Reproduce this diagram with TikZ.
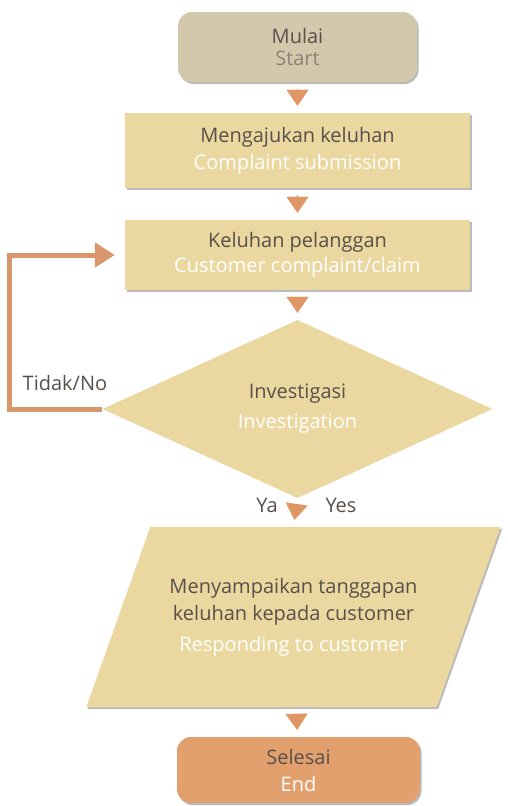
\documentclass[tikz,border=0pt]{standalone}
\usepackage{fontspec}
\setmainfont{Open Sans}
\usetikzlibrary{shapes.geometric, arrows.meta, shadows, positioning, backgrounds}
\definecolor{startfill}{RGB}{212,200,172}
\definecolor{boxfill}{RGB}{234,216,160}
\definecolor{endfill}{RGB}{226,160,110}
\definecolor{arrowc}{RGB}{224,150,100}
\definecolor{backc}{RGB}{217,151,110}
\definecolor{textdark}{RGB}{90,80,74}
\definecolor{textgrey}{RGB}{140,132,122}
\tikzset{
  every node/.style={font=\fontsize{20}{25}\selectfont, text=textdark, align=center},
  boxshadow/.style={drop shadow={shadow xshift=1.5pt, shadow yshift=-2pt, opacity=0.45, fill=black!60}},
  terminal/.style={rectangle, rounded corners=14pt, inner sep=0pt, boxshadow},
  process/.style={rectangle, fill=boxfill, inner sep=0pt, minimum width=345pt, boxshadow},
  decision/.style={diamond, fill=boxfill, inner sep=0pt, aspect=2.19, minimum width=390pt, minimum height=178pt},
  io/.style={rectangle, inner sep=0pt, minimum width=350pt, minimum height=180pt},
  tri/.style={draw=arrowc, line width=0.1pt, -{Triangle[width=22pt,length=16pt]}, shorten <=7pt, shorten >=7pt},
  backline/.style={draw=backc, line width=5pt, line join=miter, -{Triangle[width=24pt,length=20pt]}, shorten >=10pt}
}
\begin{document}
\begin{tikzpicture}[x=1pt, y=-1pt]
\useasboundingbox (0,0) rectangle (507,806);
\node[terminal, fill=startfill, minimum width=239pt, minimum height=70pt] (start) at (297.5,47)
  {Mulai\\[-3pt]\textcolor{textgrey}{Start}};
\node[process, minimum height=75pt] (submit) at (297.5,150.5)
  {Mengajukan keluhan\\[2pt]\textcolor{white}{Complaint submission}};
\node[process, minimum height=70pt] (claim) at (297.5,255)
  {Keluhan pelanggan\\\textcolor{white}{Customer complaint/claim}};
\node[decision] (inv) at (297.5,409)
  {Investigasi\\[5pt]\textcolor{white}{Investigation}};
\node[io] (resp) at (293.5,617)
  {Menyampaikan tanggapan\\[2pt]keluhan kepada customer\\[6pt]\textcolor{white}{Responding to customer}};
\node[terminal, fill=endfill, minimum width=243pt, minimum height=66pt] (end) at (298.5,770)
  {Selesai\\[2pt]\textcolor{white}{End}};
% parallelogram behind the text
\begin{scope}[on background layer]
\path[fill=boxfill, boxshadow] ([xshift=32pt]resp.north west) -- ([xshift=32pt]resp.north east)
  -- ([xshift=-32pt]resp.south east) -- ([xshift=-32pt]resp.south west) -- cycle;
\end{scope}
% labels
\node (no) at (65,383) {Tidak/No};
\node (ya) at (267,505) {Ya};
\node (yes) at (341,505) {Yes};
% connectors
\draw[tri] (start) -- (submit);
\draw[tri] (submit) -- (claim);
\draw[tri] (claim) -- (inv);
\draw[tri] (inv.south) -- (resp.north);
\draw[tri] (resp) -- (end);
\draw[backline] (inv.west) -- ++(-93,0) |- (claim.west);
\end{tikzpicture}
\end{document}
